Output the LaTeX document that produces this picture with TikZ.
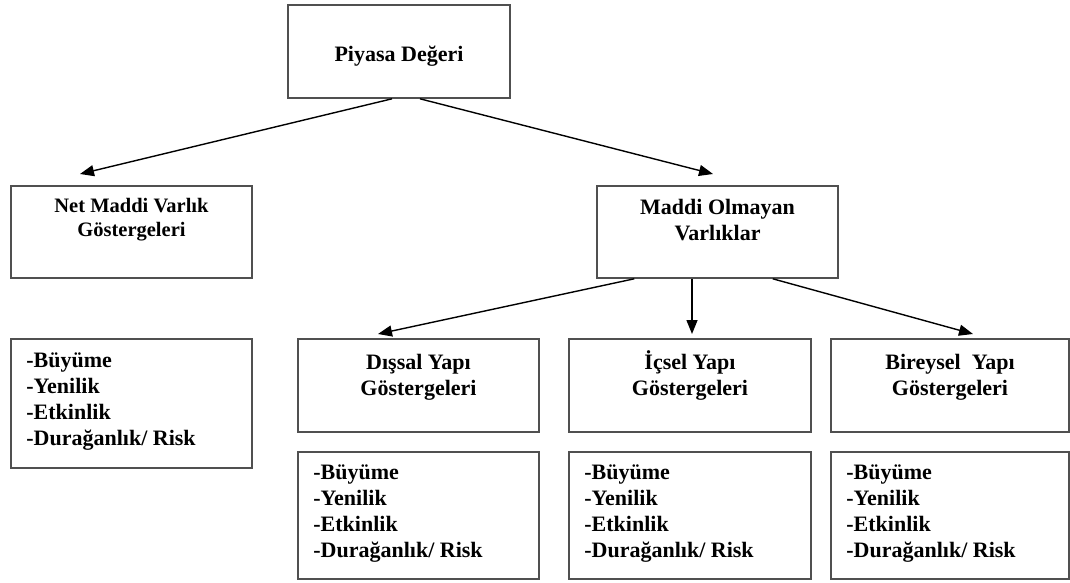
\documentclass[tikz,border=0pt]{standalone}
\usepackage{fontspec}
\setmainfont{Liberation Serif}
\usetikzlibrary{arrows.meta,calc}
\definecolor{boxgray}{HTML}{505050}
\newcommand{\headlines}[1]{\begin{tabular}[t]{@{}c@{}}#1\end{tabular}}
\newcommand{\itemlines}{\begin{tabular}[t]{@{}l@{}}-Büyüme\\-Yenilik\\-Etkinlik\\-Durağanlık/ Risk\end{tabular}}
\begin{document}
\begin{tikzpicture}[x=1pt,y=-1pt,
  box/.style={draw=boxgray, line width=1.6pt, rectangle, inner sep=0pt},
  headtxt/.style={inner sep=0pt, anchor=base, font=\fontsize{22}{26.5}\selectfont\bfseries},
  smallhead/.style={inner sep=0pt, anchor=base, font=\fontsize{20.5}{24}\selectfont\bfseries},
  listtxt/.style={inner sep=0pt, anchor=base west, font=\fontsize{22}{26}\selectfont\bfseries},
  arr/.style={draw=black, line width=1.4pt, -{Triangle[length=14pt,width=11pt]}}
]
\useasboundingbox (0,0) rectangle (1070,583);

% top level
\node[box, minimum width=222pt, minimum height=93pt] (piyasa) at (399,51.5) {};
\node[headtxt] (piyasa-t) at (399,62) {Piyasa Değeri};

% second level
\node[box, minimum width=241pt, minimum height=92pt] (net) at (131.5,232) {};
\node[smallhead] (net-t) at ($(net.north)+(0,27)$) {\headlines{Net Maddi Varlık\\Göstergeleri}};

\node[box, minimum width=241pt, minimum height=92pt] (maddi) at (717.5,232) {};
\node[headtxt] (maddi-t) at ($(maddi.north)+(0,29)$) {\headlines{Maddi Olmayan\\Varlıklar}};

% list under the tangible assets
\node[box, minimum width=241pt, minimum height=129pt] (netlist) at (131.5,403.5) {};
\node[listtxt] (netlist-t) at ($(netlist.north west)+(16,29)$) {\itemlines};

% third level
\node[box, minimum width=241pt, minimum height=93pt] (dis) at (418.5,385.5) {};
\node[headtxt] (dis-t) at ($(dis.north)+(0,31)$) {\headlines{Dışsal Yapı\\Göstergeleri}};

\node[box, minimum width=242pt, minimum height=93pt] (ic) at (690,385.5) {};
\node[headtxt] (ic-t) at ($(ic.north)+(0,31)$) {\headlines{İçsel Yapı\\Göstergeleri}};

\node[box, minimum width=238pt, minimum height=93pt] (bir) at (950,385.5) {};
\node[headtxt] (bir-t) at ($(bir.north)+(0,31)$) {\headlines{Bireysel\ \ Yapı\\Göstergeleri}};

% indicator lists
\node[box, minimum width=241pt, minimum height=127pt] (dislist) at (418.5,515.5) {};
\node[listtxt] (dislist-t) at ($(dislist.north west)+(16,28.5)$) {\itemlines};

\node[box, minimum width=242pt, minimum height=127pt] (iclist) at (690,515.5) {};
\node[listtxt] (iclist-t) at ($(iclist.north west)+(16,28.5)$) {\itemlines};

\node[box, minimum width=238pt, minimum height=127pt] (birlist) at (950,515.5) {};
\node[listtxt] (birlist-t) at ($(birlist.north west)+(16,28.5)$) {\itemlines};

% arrow tips
\coordinate (tipnet) at (80,174);
\coordinate (tipmaddi) at (713,174);
\coordinate (tipdis) at (378,334);
\coordinate (tipic) at (692,334);
\coordinate (tipbir) at (973,334);

% connectors
\draw[arr] ($(piyasa.south)+(-7,0)$) -- (tipnet);
\draw[arr] ($(piyasa.south)+(21,0)$) -- (tipmaddi);
\draw[arr] ($(maddi.south west)+(38,0)$) -- (tipdis);
\draw[arr] ($(maddi.south)+(-25.5,0)$) -- (tipic);
\draw[arr] ($(maddi.south east)+(-66,0)$) -- (tipbir);
\end{tikzpicture}
\end{document}
